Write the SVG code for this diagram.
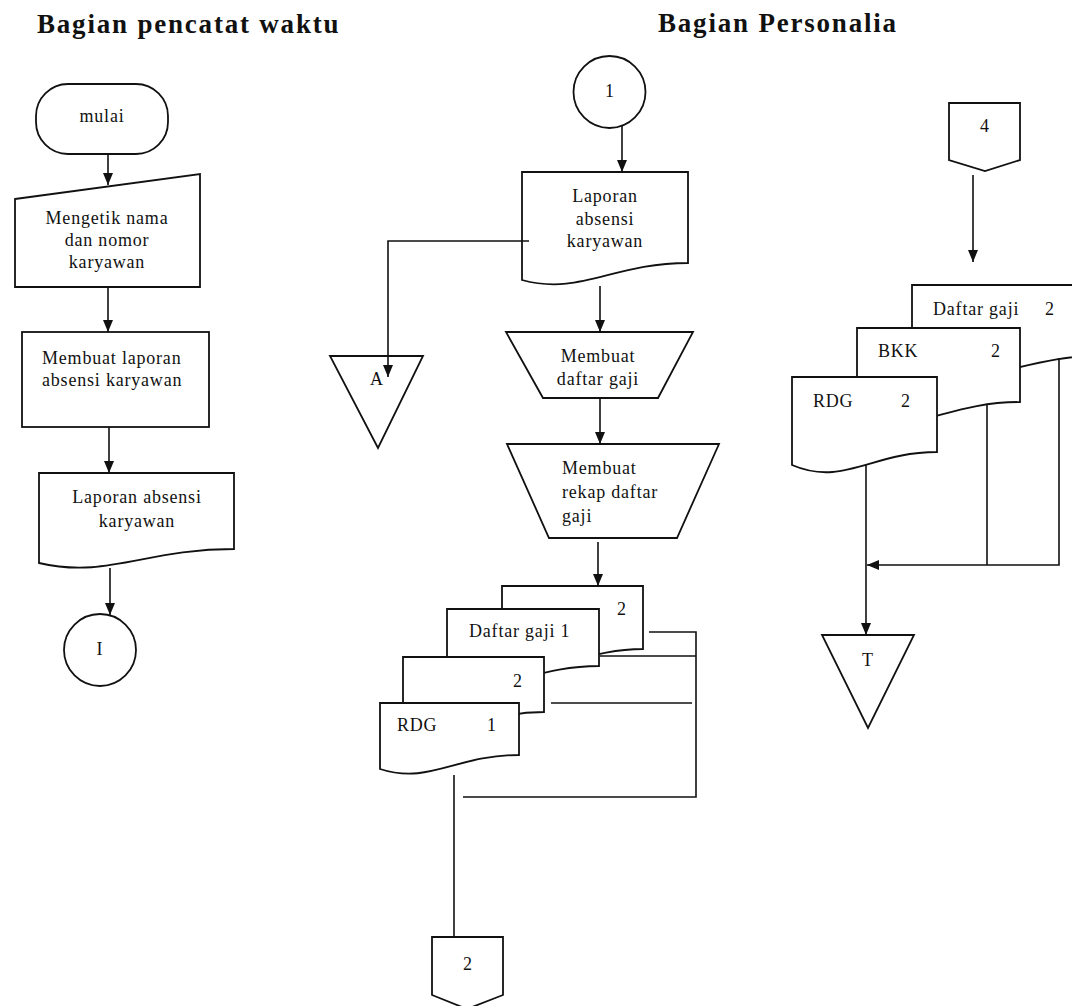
<svg xmlns="http://www.w3.org/2000/svg" width="1072" height="1006" viewBox="0 0 1072 1006">
<style>
.s{fill:#fff;stroke:#111;stroke-width:1.8;stroke-linejoin:miter}
.c{fill:none;stroke:#111;stroke-width:1.6}
.t{font-family:"Liberation Serif","Times New Roman",serif;font-size:18px;fill:#111;letter-spacing:0.8px}
.m{text-anchor:middle}
.h{font-family:"Liberation Serif","Times New Roman",serif;font-size:27px;font-weight:bold;fill:#111;letter-spacing:1.8px}
</style>
<defs>
<marker id="ar" viewBox="0 0 12 10" refX="12" refY="5" markerWidth="12" markerHeight="10" orient="auto" markerUnits="userSpaceOnUse">
<path d="M0,0 L12,5 L0,10 Z" fill="#111"/>
</marker>
</defs>
<rect width="1072" height="1006" fill="#fff"/>
<text class="h" x="37" y="33">Bagian pencatat waktu</text>
<text class="h" x="658" y="32">Bagian Personalia</text>

<g id="mulai"><rect class="s" x="36" y="84" width="132" height="70" rx="32"/><text class="t m" x="102" y="122">mulai</text></g>
<g id="mengetik"><polygon class="s" points="15,199 200,174 200,287 15,287"/><text class="t m" x="107" y="224">Mengetik nama</text><text class="t m" x="107" y="246">dan nomor</text><text class="t m" x="107" y="268">karyawan</text></g>
<g id="membuat-laporan"><rect class="s" x="22" y="332" width="187" height="95"/><text class="t" x="42" y="364">Membuat laporan</text><text class="t" x="42" y="386">absensi karyawan</text></g>
<g id="laporan-kiri"><path class="s" d="M39,473 H234 V549 C146,549 107,579 39,563 Z"/><text class="t m" x="137" y="503">Laporan absensi</text><text class="t m" x="137" y="527">karyawan</text></g>
<g id="konektor-I"><circle class="s" cx="100" cy="650" r="36"/><text class="t m" x="100" y="655">I</text></g>

<g id="konektor-1"><circle class="s" cx="609.5" cy="92" r="36"/><text class="t m" x="610" y="97">1</text></g>
<g id="laporan-tengah"><path class="s" d="M522,172 H688 V263 C613,263 580,296 522,280 Z"/><text class="t m" x="605" y="202">Laporan</text><text class="t m" x="605" y="225">absensi</text><text class="t m" x="605" y="247">karyawan</text></g>
<g id="arsip-A"><polygon class="s" points="330,356 423,356 378,448"/><text class="t m" x="377" y="385">A</text></g>
<g id="membuat-daftar"><polygon class="s" points="506,332 693,332 658,398 543,398"/><text class="t m" x="598" y="362">Membuat</text><text class="t m" x="598" y="385">daftar gaji</text></g>
<g id="membuat-rekap"><polygon class="s" points="507,444 719,444 677,538 549,538"/><text class="t" x="562" y="474">Membuat</text><text class="t" x="562" y="498">rekap daftar</text><text class="t" x="562" y="522">gaji</text></g>
<g id="dokumen-gaji-1">
<path class="s" d="M502,586 H643 V649 C580,649 551,680 502,664 Z"/><text class="t" x="617" y="615">2</text>
<path class="s" d="M447,609 H599 V666 C531,666 500,697 447,681 Z"/><text class="t" x="469" y="637">Daftar gaji 1</text>
<path class="s" d="M403,657 H544 V712 C481,712 452,743 403,727 Z"/><text class="t" x="513" y="687">2</text>
<path class="s" d="M380,703 H519 V755 C456,755 429,785 380,769 Z"/><text class="t" x="397" y="731">RDG</text><text class="t" x="487" y="731">1</text>
</g>
<g id="konektor-2"><polygon class="s" points="432,937 503,937 503,995 467,1009 432,995"/><text class="t m" x="468" y="970">2</text></g>

<g id="konektor-4"><polygon class="s" points="949,103 1020,103 1020,160 985,171 949,160"/><text class="t m" x="985" y="132">4</text></g>
<g id="dokumen-gaji-2">
<path class="s" d="M912,285 H1110 V355 C1021,355 981,391 912,375 Z"/><text class="t" x="933" y="315">Daftar gaji</text><text class="t" x="1045" y="315">2</text>
<path class="s" d="M857,328 H1020 V402 C947,402 914,436 857,420 Z"/><text class="t" x="878" y="357">BKK</text><text class="t" x="991" y="357">2</text>
<path class="s" d="M792,377 H937 V452 C872,452 843,487 792,465 Z"/><text class="t" x="813" y="407">RDG</text><text class="t" x="901" y="407">2</text>
</g>
<g id="arsip-T"><polygon class="s" points="822,635 914,635 868,728"/><text class="t m" x="868" y="666">T</text></g>

<g id="connectors">
<line class="c" x1="108" y1="154" x2="108" y2="185" marker-end="url(#ar)"/>
<line class="c" x1="108" y1="287" x2="108" y2="332" marker-end="url(#ar)"/>
<line class="c" x1="109" y1="427" x2="109" y2="473" marker-end="url(#ar)"/>
<line class="c" x1="110" y1="568" x2="110" y2="615" marker-end="url(#ar)"/>
<line class="c" x1="622" y1="126" x2="622" y2="172" marker-end="url(#ar)"/>
<polyline class="c" points="529,241 388,241 388,377" marker-end="url(#ar)"/>
<line class="c" x1="600" y1="286" x2="600" y2="332" marker-end="url(#ar)"/>
<line class="c" x1="600" y1="398" x2="600" y2="444" marker-end="url(#ar)"/>
<line class="c" x1="598" y1="542" x2="598" y2="586" marker-end="url(#ar)"/>
<polyline class="c" points="649,632 696,632 696,797 463,797"/>
<line class="c" x1="600" y1="656" x2="696" y2="656"/>
<line class="c" x1="551" y1="703" x2="692" y2="703"/>
<line class="c" x1="454" y1="775" x2="454" y2="937"/>
<line class="c" x1="973" y1="175" x2="973" y2="262" marker-end="url(#ar)"/>
<line class="c" x1="866" y1="465" x2="866" y2="635" marker-end="url(#ar)"/>
<line class="c" x1="987" y1="404" x2="987" y2="565"/>
<polyline class="c" points="1059,358 1059,565 867,565" marker-end="url(#ar)"/>
</g>
</svg>
